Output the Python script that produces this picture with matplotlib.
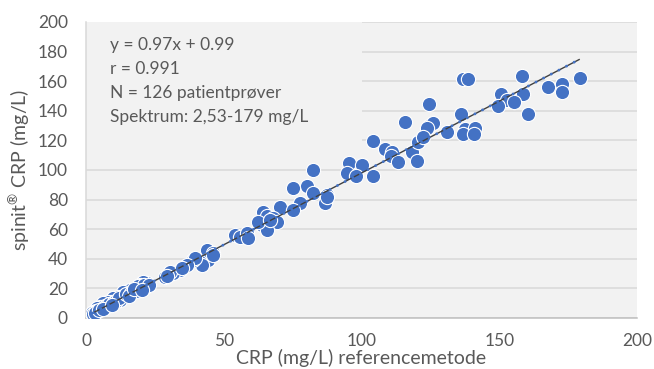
import matplotlib
matplotlib.use("Agg")
import matplotlib.pyplot as plt
from matplotlib.patches import Rectangle
import numpy as np

# Reference method CRP (x) vs spinit CRP (y), mg/L
ref_x = [
    136.7, 138.8, 158.1, 179.2, 167.6, 172.7, 172.7, 150.5, 158.5, 152.7,
    155.5, 149.7, 160.6, 124.6, 136.1, 115.7, 124.4, 126.1, 123.7, 131.0,
    137.5, 137.0, 141.1, 140.7, 104.1, 108.6, 111.0, 110.8, 113.1, 118.2,
    120.2, 120.6, 122.2, 95.6, 100.1, 94.9, 98.0, 104.1,
    82.5, 80.3, 75.3, 82.3, 87.4, 86.8, 77.7, 70.4, 75.3, 64.4,
    65.8, 68.0, 69.2, 63.8, 65.6, 62.5, 66.8, 54.1, 55.9, 58.3,
    58.7, 87.6,
    43.8, 46.2, 44.4, 41.4, 42.0, 39.0, 39.6, 46.2, 36.6, 34.1,
    31.7, 30.5, 28.7, 35.0, 29.5,
    22.0, 20.8, 19.6, 21.5, 20.0, 18.4, 17.0, 16.0, 15.0, 13.5,
    14.2, 13.0, 11.7, 12.5, 10.5, 9.9, 9.0, 8.1, 7.5, 6.3,
    6.8, 5.5, 5.1, 4.5, 3.9, 3.5, 3.0, 2.7, 2.53, 2.1,
    2.6, 4.0, 5.8, 7.0, 8.5, 10.0, 11.0, 12.0, 14.5, 16.5,
    18.0, 19.0, 21.0, 23.0, 3.2, 4.8, 6.0, 9.5, 15.5, 17.5,
    20.5,
]
spinit_y = [
    161.5, 161.3, 163.5, 162.0, 155.9, 158.1, 152.9, 151.1, 151.4, 147.3,
    146.2, 143.5, 137.6, 144.6, 137.8, 132.2, 129.7, 131.5, 128.2, 125.7,
    127.5, 124.1, 128.6, 124.1, 119.4, 114.0, 112.4, 109.5, 105.6, 112.4,
    106.3, 119.1, 122.1, 104.5, 103.4, 97.8, 96.2, 96.0,
    100.0, 89.2, 87.6, 84.2, 83.1, 77.5, 77.5, 75.2, 73.0, 71.8,
    68.9, 67.4, 65.1, 62.8, 59.5, 65.1, 66.2, 56.1, 54.9, 57.2,
    54.3, 81.5,
    45.9, 44.1, 39.2, 38.1, 35.8, 39.2, 40.3, 42.6, 35.8, 32.4,
    30.2, 31.3, 27.9, 34.0, 28.5,
    23.4, 24.5, 22.3, 21.0, 20.5, 20.0, 18.5, 18.9, 17.0, 17.8,
    15.5, 14.0, 14.4, 12.5, 12.0, 13.3, 10.5, 11.0, 9.0, 9.9,
    8.0, 7.0, 7.6, 6.0, 6.6, 5.0, 4.0, 4.3, 2.5, 3.2,
    3.0, 4.5, 6.2, 7.5, 9.5, 10.5, 11.5, 13.5, 16.0, 17.0,
    18.0, 21.5, 22.5, 22.0, 3.5, 5.5, 5.8, 9.0, 15.0, 19.5,
    19.0,
]

slope = 0.97
intercept = 0.99
fit_range = [2.53, 179]

annotation_lines = [
    "y = 0.97x + 0.99",
    "r = 0.991",
    "N = 126 patientprøver",
    "Spektrum: 2,53-179 mg/L",
]
x_ticks = [0, 50, 100, 150, 200]
y_ticks = list(range(0, 201, 20))

plt.rcParams['font.family'] = ['Lato', 'DejaVu Sans']

fig = plt.figure(figsize=(6.54, 3.69), dpi=100)
ax = fig.add_axes([86/654, 1-318/369, (637-86)/654, (318-22)/369])
ax.set_facecolor('#F2F2F2')
ax.set_xlim(0, 200)
ax.set_ylim(0, 200)
ax.set_xticks(x_ticks)
ax.set_yticks(y_ticks)
ax.grid(axis='y', color='#D9D9D9', lw=1.1, zorder=0)
ax.set_axisbelow(True)
for s in ['top', 'right']:
    ax.spines[s].set_visible(False)
ax.spines['left'].set_color('#D9D9D9')
ax.spines['bottom'].set_color('#BFBFBF')
ax.spines['left'].set_linewidth(1.1)
ax.spines['bottom'].set_linewidth(1.1)
ax.tick_params(length=0, labelsize=12.5, labelcolor='#595959')
ax.tick_params(axis='y', pad=13)
ax.tick_params(axis='x', pad=11)

# box behind the annotation hiding gridlines
ax.add_patch(Rectangle((0, 0.52), 0.5, 0.48, transform=ax.transAxes,
                       facecolor='#F2F2F2', edgecolor='none', zorder=1))

ax.scatter(ref_x, spinit_y, s=105, color='#4472C4', edgecolors='white',
           linewidths=0.8, zorder=3)

fx = np.array(fit_range)
fy = slope * fx + intercept
ax.plot(fx, fy, color='#404040', lw=1.0, zorder=4)
ax.plot(fx, fy, color='#4472C4', lw=2.0, ls=(0, (0.1, 3)),
        dash_capstyle='round', zorder=4)

ax.text(0.043, 0.95, "\n".join(annotation_lines), transform=ax.transAxes,
        ha='left', va='top', fontsize=12.5, color='#595959',
        linespacing=1.62, zorder=5)

ax.set_xlabel("CRP (mg/L) referencemetode", fontsize=14, color='#595959',
              labelpad=0)
ax.set_ylabel("spinit$^{\\mathregular{®}}$ CRP (mg/L)", fontsize=14,
              color='#595959', labelpad=4)

fig.savefig("out.png", dpi=100)
